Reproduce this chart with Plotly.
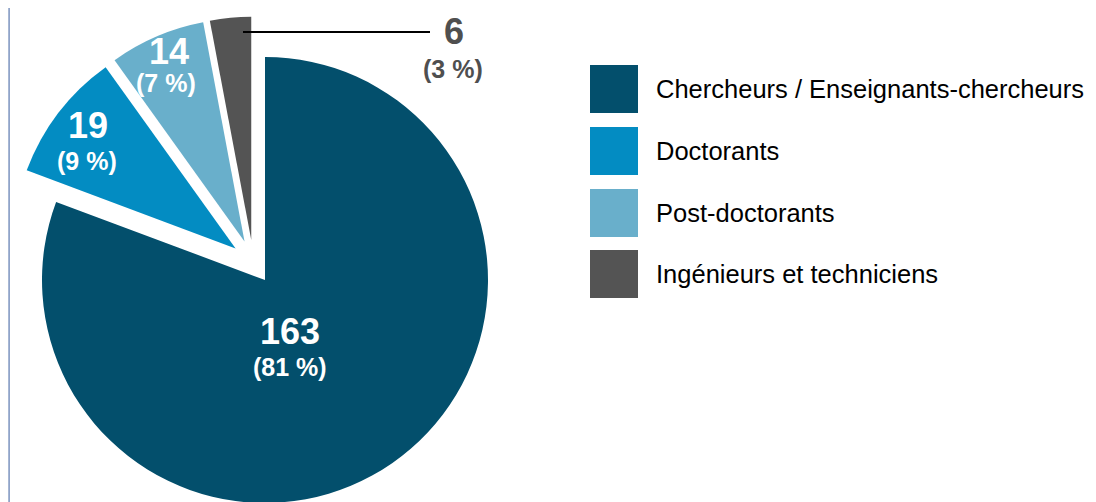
import plotly.graph_objects as go

# ---- data ----
labels = ["Chercheurs / Enseignants-chercheurs", "Doctorants", "Post-doctorants", "Ingénieurs et techniciens"]
values = [163, 19, 14, 6]
percents = ["81 %", "9 %", "7 %", "3 %"]
colors = ["#034f6c", "#038cc2", "#69afcb", "#545454"]

# ---- layout constants (screen pixels; the page body adds an 8 px offset) ----
OFF = 8
WF, HF = 1088, 502          # figure size
R = 223                     # pie radius
BIG_C = (265, 280)          # centre of the large (non-pulled) slice
SMALL_PULL = 0.1            # pull of the three small slices
TRANSP = "rgba(0,0,0,0)"

def px(x, y):
    """screen pixel -> paper coordinates"""
    return (x - OFF) / WF, 1 - (y - OFF) / HF

# trace A : the large slice, not pulled
ax0, ay1 = px(BIG_C[0] - R, BIG_C[1] - R)
ax1, ay0 = px(BIG_C[0] + R, BIG_C[1] + R)
# trace B : the three small slices, pulled out (centre as far left as the domain allows)
half = R * (1 + SMALL_PULL)
small_c = (OFF + half, 262)
bx0, by1 = px(small_c[0] - half, small_c[1] - half)
bx1, by0 = px(small_c[0] + half, small_c[1] + half)

common = dict(labels=labels, values=values, sort=False, direction="clockwise", rotation=0,
              textinfo="none", hoverinfo="label+value+percent", showlegend=False)
fig = go.Figure()
fig.add_trace(go.Pie(**common,
                     marker=dict(colors=[colors[0]] + [TRANSP] * 3, line=dict(width=0)),
                     pull=[0, 0, 0, 0], domain=dict(x=[ax0, ax1], y=[ay0, ay1])))
fig.add_trace(go.Pie(**common,
                     marker=dict(colors=[TRANSP] + colors[1:], line=dict(width=0)),
                     pull=[0, SMALL_PULL, SMALL_PULL, SMALL_PULL],
                     domain=dict(x=[max(bx0, 0), bx1], y=[max(by0, 0), min(by1, 1)])))

NUM_FONT = "Liberation Sans, Arial, sans-serif"
# label anchor points (screen px): value line centre and percent line centre
num_pos = [(290, 331), (88, 125), (169, 51), (454, 32)]
pct_pos = [(290, 367), (87, 161), (166, 83), (453, 69)]
label_colors = ["white", "white", "white", "#4f4f4f"]

annotations, shapes = [], []
for i, v in enumerate(values):
    x, y = px(*num_pos[i])
    annotations.append(dict(x=x, y=y, xref="paper", yref="paper", text=f"<b>{v}</b>",
                            showarrow=False, xanchor="center", yanchor="middle",
                            font=dict(family=NUM_FONT, size=36, color=label_colors[i])))
    x, y = px(*pct_pos[i])
    annotations.append(dict(x=x, y=y, xref="paper", yref="paper", text=f"<b>({percents[i]})</b>",
                            showarrow=False, xanchor="center", yanchor="middle",
                            font=dict(family=NUM_FONT, size=25, color=label_colors[i])))

# leader line for the small outside label
lx0, ly0 = px(243, 32)
lx1, ly1 = px(430, 32)
shapes.append(dict(type="line", xref="paper", yref="paper", x0=lx0, y0=ly0, x1=lx1, y1=ly1,
                   line=dict(color="black", width=2)))

# custom legend with large swatches
sq_x0, sq_size = 590, 48
row_tops = [65, 127, 189, 250]
for i, lab in enumerate(labels):
    top = row_tops[i]
    x0, y0 = px(sq_x0, top)
    x1, y1 = px(sq_x0 + sq_size, top + sq_size)
    shapes.append(dict(type="rect", xref="paper", yref="paper", x0=x0, y0=y1, x1=x1, y1=y0,
                       fillcolor=colors[i], line=dict(width=0)))
    tx, ty = px(654, top + sq_size / 2)
    annotations.append(dict(x=tx, y=ty, xref="paper", yref="paper", text=lab, showarrow=False,
                            xanchor="left", yanchor="middle",
                            font=dict(family="Liberation Sans, Arial, sans-serif", size=25.5, color="black")))

# thin left frame line
shapes.append(dict(type="line", xref="paper", yref="paper", x0=0.001, x1=0.001, y0=0, y1=1,
                   line=dict(color="#7b93bf", width=1.5)))

fig.update_layout(
    width=WF, height=HF, margin=dict(l=0, r=0, t=0, b=0),
    paper_bgcolor="white", plot_bgcolor="white",
    annotations=annotations, shapes=shapes, showlegend=False,
)
fig.write_html("out.html")
